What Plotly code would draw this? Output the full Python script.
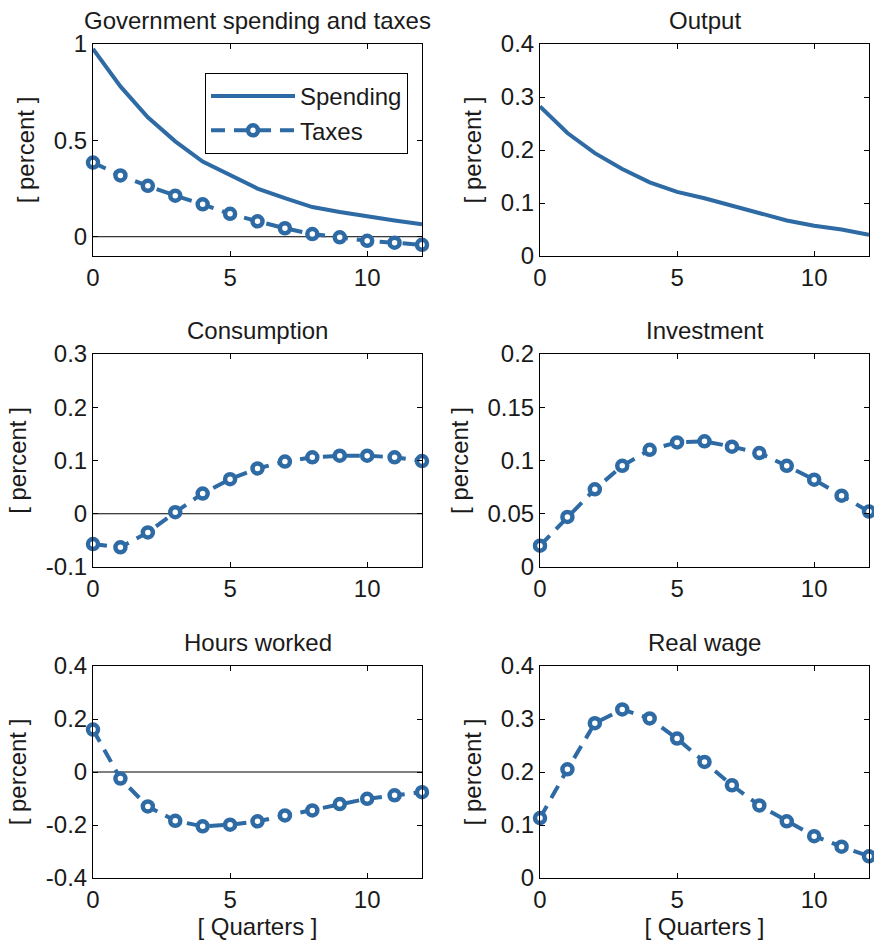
import plotly.graph_objects as go

quarters = list(range(13))
spending = [0.975, 0.78, 0.62, 0.495, 0.39, 0.32, 0.25, 0.20, 0.154, 0.128, 0.105, 0.084, 0.065]
taxes = [0.385, 0.318, 0.264, 0.213, 0.168, 0.119, 0.080, 0.044, 0.014, -0.003, -0.021, -0.031, -0.042]
output = [0.282, 0.232, 0.194, 0.164, 0.139, 0.121, 0.109, 0.095, 0.081, 0.067, 0.057, 0.050, 0.040]
consumption = [-0.057, -0.063, -0.035, 0.003, 0.038, 0.065, 0.085, 0.098, 0.106, 0.109, 0.109, 0.106, 0.099]
investment = [0.020, 0.047, 0.073, 0.095, 0.110, 0.117, 0.118, 0.113, 0.107, 0.095, 0.082, 0.067, 0.052]
hours = [0.160, -0.025, -0.130, -0.184, -0.205, -0.199, -0.186, -0.164, -0.145, -0.121, -0.101, -0.088, -0.076]
real_wage = [0.113, 0.205, 0.292, 0.318, 0.301, 0.263, 0.219, 0.175, 0.137, 0.107, 0.079, 0.059, 0.041]

titles = ["Government spending and taxes", "Output", "Consumption", "Investment", "Hours worked", "Real wage"]
yranges = [[-0.1, 1.0], [0, 0.4], [-0.1, 0.3], [0, 0.2], [-0.4, 0.4], [0, 0.4]]
ytickvals = [[0, 0.5, 1], [0, 0.1, 0.2, 0.3, 0.4], [-0.1, 0, 0.1, 0.2, 0.3],
             [0, 0.05, 0.1, 0.15, 0.2], [-0.4, -0.2, 0, 0.2, 0.4], [0, 0.1, 0.2, 0.3, 0.4]]
yticktext = [["0", "0.5", "1"], ["0", "0.1", "0.2", "0.3", "0.4"], ["-0.1", "0", "0.1", "0.2", "0.3"],
             ["0", "0.05", "0.1", "0.15", "0.2"], ["-0.4", "-0.2", "0", "0.2", "0.4"],
             ["0", "0.1", "0.2", "0.3", "0.4"]]

W, H = 874, 946
BLUE = "#2E6AA4"
TXT = "#1a1a1a"
FONT = "Liberation Sans, Arial, sans-serif"
FS = 24

col_px = [(93, 422), (540, 869)]
row_px = [(44, 256), (354, 567), (666, 878)]

fig = go.Figure()

def dom_x(c):
    return [col_px[c][0] / W, col_px[c][1] / W]

def dom_y(r):
    return [1 - row_px[r][1] / H, 1 - row_px[r][0] / H]

dashed = dict(color=BLUE, width=4, dash="14px,9px")
marker = dict(symbol="circle", size=10, color="white", line=dict(color=BLUE, width=4.5))

series = [
    [("Spending", spending, "solid"), ("Taxes", taxes, "dashed")],
    [("Output", output, "solid")],
    [("Consumption", consumption, "dashed")],
    [("Investment", investment, "dashed")],
    [("Hours worked", hours, "dashed")],
    [("Real wage", real_wage, "dashed")],
]

for i in range(6):
    r, c = divmod(i, 2)
    n = i + 1
    xa = "x" if n == 1 else f"x{n}"
    ya = "y" if n == 1 else f"y{n}"
    lo, hi = yranges[i]
    if lo < 0 < hi:
        fig.add_trace(go.Scatter(x=[quarters[0], quarters[-1]], y=[0, 0], mode="lines",
                                 line=dict(color="black", width=1), showlegend=False,
                                 hoverinfo="skip", xaxis=xa, yaxis=ya))
    for name, vals, style in series[i]:
        if style == "solid":
            fig.add_trace(go.Scatter(x=quarters, y=vals, mode="lines", name=name,
                                     line=dict(color=BLUE, width=4), showlegend=(i == 0),
                                     cliponaxis=False, xaxis=xa, yaxis=ya))
        else:
            fig.add_trace(go.Scatter(x=quarters, y=vals, mode="lines+markers", name=name,
                                     line=dashed, marker=marker, showlegend=(i == 0),
                                     cliponaxis=False, xaxis=xa, yaxis=ya))
    axis_common = dict(showline=True, linecolor="black", linewidth=1, mirror="ticks",
                       ticks="inside", ticklen=5, tickcolor="black", tickwidth=1,
                       showgrid=False, zeroline=False, automargin=False,
                       tickfont=dict(family=FONT, size=FS, color=TXT))
    fig.layout[f"xaxis{'' if n == 1 else n}"] = dict(
        domain=dom_x(c), range=[0, 12], tickvals=[0, 5, 10], anchor=ya,
        title=dict(text="[ Quarters ]" if r == 2 else "", font=dict(family=FONT, size=FS, color=TXT),
                   standoff=6),
        **axis_common)
    fig.layout[f"yaxis{'' if n == 1 else n}"] = dict(
        domain=dom_y(r), range=yranges[i], tickvals=ytickvals[i], ticktext=yticktext[i], anchor=xa,
        title=dict(text="[ percent ]", font=dict(family=FONT, size=FS, color=TXT), standoff=12),
        **axis_common)
    xc = (col_px[c][0] + col_px[c][1]) / 2 / W
    fig.add_annotation(text=titles[i], x=xc, y=1 - (row_px[r][0] - 8) / H, xref="paper", yref="paper",
                       xanchor="center", yanchor="bottom", showarrow=False,
                       font=dict(family=FONT, size=FS, color=TXT))

fig.update_layout(
    width=W, height=H, margin=dict(l=0, r=0, t=0, b=0, pad=0, autoexpand=False),
    paper_bgcolor="white", plot_bgcolor="white",
    showlegend=True,
    legend=dict(x=205 / W, y=1 - 73 / H, xanchor="left", yanchor="top",
                bordercolor="black", borderwidth=1, bgcolor="white",
                font=dict(family=FONT, size=FS, color=TXT),
                itemwidth=84, tracegroupgap=0),
)

fig.write_html("out.html", post_script="document.body.style.margin='0';")
